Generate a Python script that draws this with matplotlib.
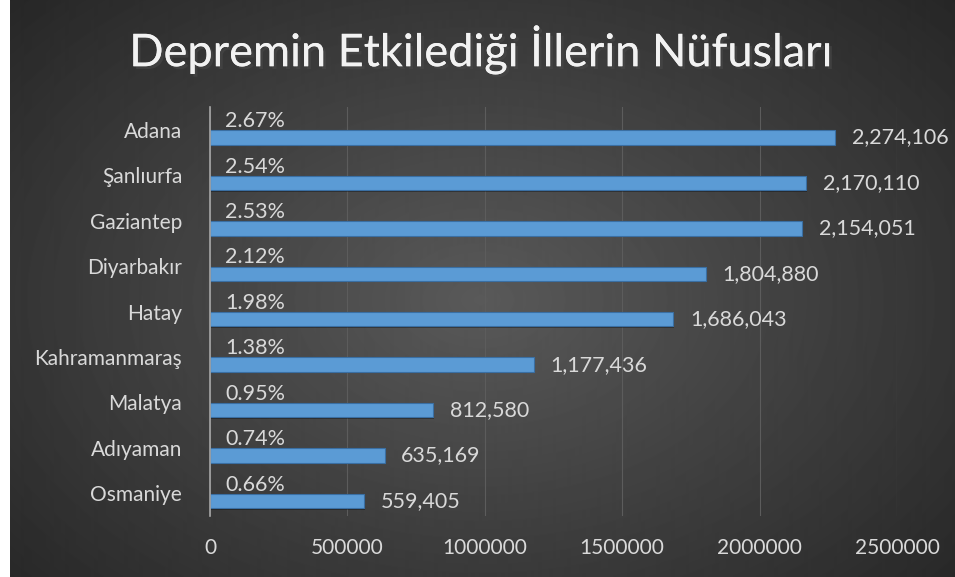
import numpy as np
import matplotlib.pyplot as plt
import matplotlib.patheffects as pe

cities = ['Adana', 'Şanlıurfa', 'Gaziantep', 'Diyarbakır', 'Hatay',
          'Kahramanmaraş', 'Malatya', 'Adıyaman', 'Osmaniye']
population = [2274106, 2170110, 2154051, 1804880, 1686043,
              1177436, 812580, 635169, 559405]
share = ['2.67%', '2.54%', '2.53%', '2.12%', '1.98%',
         '1.38%', '0.95%', '0.74%', '0.66%']
xticks = [0, 500000, 1000000, 1500000, 2000000, 2500000]

plt.rcParams['font.family'] = ['Lato', 'DejaVu Sans']
txt = '#d9d9d9'

fig = plt.figure(figsize=(9.55, 5.77), dpi=100)
fig.patch.set_facecolor('white')

# dark radial background
bg = fig.add_axes([10 / 955, 0, 945 / 955, 1])
bg.set_axis_off()
yy, xx = np.mgrid[0:577, 0:945]
r = np.sqrt(((xx - 470) / 620) ** 2 + ((yy - 300) / 420) ** 2)
val = np.clip(0.35 - 0.19 * r, 0.15, 0.35)
bg.imshow(val, cmap='gray', vmin=0, vmax=1, aspect='auto',
          extent=[0, 1, 0, 1], interpolation='bilinear')

fig.text(0.503, 0.913, 'Depremin Etkilediği İllerin Nüfusları',
         ha='center', va='center', fontsize=32.5, color='#f2f2f2',
         path_effects=[pe.withSimplePatchShadow(offset=(2, -2), alpha=0.6),
                       pe.Normal()])

ax = fig.add_axes([210 / 955, 1 - 516 / 577, 687 / 955, 409 / 577])
ax.patch.set_alpha(0)
y = np.arange(len(cities))
# shadow + bars
ax.barh(y + 0.17 + 0.03, population, height=0.32, color='black', alpha=0.35,
        left=4000, zorder=2)
ax.barh(y + 0.17, population, height=0.32, color='#5b9bd5',
        edgecolor='#3a6fa3', linewidth=0.8, zorder=3)

for i in range(len(cities)):
    ax.annotate(f'{population[i]:,}', (population[i], y[i] + 0.17),
                xytext=(12, 0), textcoords='offset points', ha='left',
                va='center', fontsize=15.5, color=txt)
    ax.annotate(share[i], (0, y[i] - 0.19), xytext=(11, 0),
                textcoords='offset points', ha='left', va='center',
                fontsize=15.5, color=txt)

ax.set_xlim(0, 2500000)
ax.set_ylim(8.5, -0.5)
ax.set_yticks(y)
ax.set_yticklabels(cities, fontsize=15, color=txt)
ax.set_xticks(xticks)
ax.set_xticklabels([str(v) for v in xticks], fontsize=15, color=txt)
ax.tick_params(length=0, pad=16)
ax.tick_params(axis='y', pad=20)
ax.grid(axis='x', color='#5c5c5c', linewidth=0.8, zorder=0)
ax.set_axisbelow(True)
for s in ['top', 'right', 'bottom']:
    ax.spines[s].set_visible(False)
ax.spines['left'].set_color('#a6a6a6')
ax.spines['left'].set_linewidth(1.2)
ax.spines['left'].set_zorder(4)

fig.savefig('out.png', dpi=100, facecolor=fig.get_facecolor())
